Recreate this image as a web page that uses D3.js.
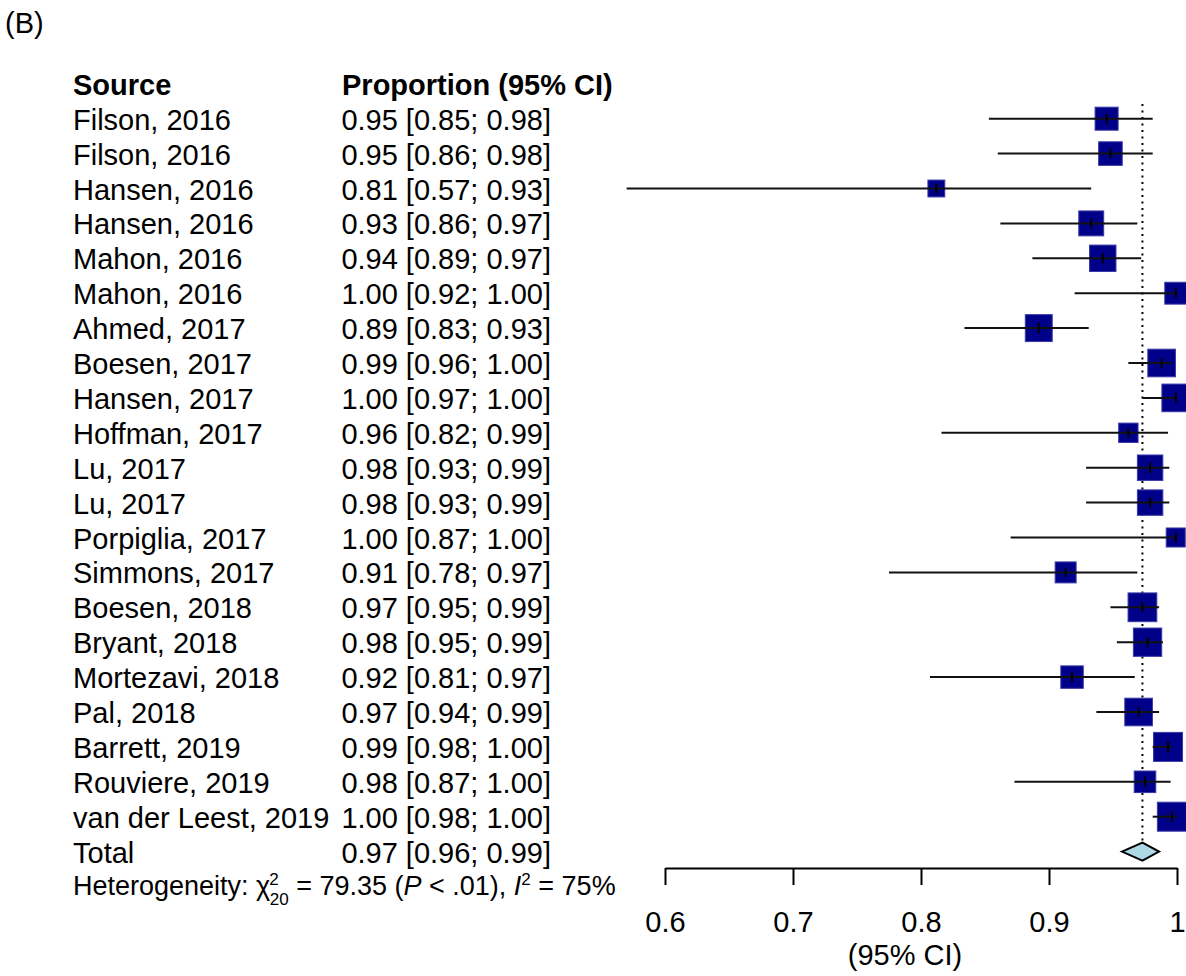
<!DOCTYPE html>
<html>
<head>
<meta charset="utf-8">
<script src="https://cdn.jsdelivr.net/npm/d3@7"></script>
<style>
  body { margin: 0; background: #fff; }
  svg { font-family: "Liberation Sans", Arial, Helvetica, sans-serif; }
</style>
</head>
<body>
<script>
var w = 1186;
var h = 976;

// study data
var studies = ["Filson, 2016", "Filson, 2016", "Hansen, 2016", "Hansen, 2016", "Mahon, 2016",
  "Mahon, 2016", "Ahmed, 2017", "Boesen, 2017", "Hansen, 2017", "Hoffman, 2017", "Lu, 2017",
  "Lu, 2017", "Porpiglia, 2017", "Simmons, 2017", "Boesen, 2018", "Bryant, 2018",
  "Mortezavi, 2018", "Pal, 2018", "Barrett, 2019", "Rouviere, 2019", "van der Leest, 2019"];
var est = [0.945, 0.948, 0.812, 0.933, 0.942, 0.999, 0.892, 0.988, 0.999, 0.962, 0.979,
  0.979, 0.999, 0.913, 0.973, 0.977, 0.918, 0.970, 0.993, 0.975, 0.996];
var lower = [0.853, 0.860, 0.570, 0.862, 0.887, 0.920, 0.834, 0.962, 0.973, 0.816, 0.929,
  0.929, 0.870, 0.775, 0.948, 0.953, 0.807, 0.937, 0.981, 0.873, 0.981];
var upper = [0.981, 0.981, 0.933, 0.969, 0.972, 1.000, 0.931, 0.996, 1.000, 0.993, 0.994,
  0.994, 1.000, 0.969, 0.986, 0.989, 0.967, 0.986, 0.996, 0.995, 1.000];
var weights = [4.1, 4.3, 2.2, 4.8, 5.4, 3.7, 5.6, 5.9, 5.9, 2.9, 5.0, 5.0, 2.8, 3.4, 6.4,
  6.2, 3.9, 5.9, 6.5, 3.6, 6.5];
var ciText = ["0.95 [0.85; 0.98]", "0.95 [0.86; 0.98]", "0.81 [0.57; 0.93]", "0.93 [0.86; 0.97]",
  "0.94 [0.89; 0.97]", "1.00 [0.92; 1.00]", "0.89 [0.83; 0.93]", "0.99 [0.96; 1.00]",
  "1.00 [0.97; 1.00]", "0.96 [0.82; 0.99]", "0.98 [0.93; 0.99]", "0.98 [0.93; 0.99]",
  "1.00 [0.87; 1.00]", "0.91 [0.78; 0.97]", "0.97 [0.95; 0.99]", "0.98 [0.95; 0.99]",
  "0.92 [0.81; 0.97]", "0.97 [0.94; 0.99]", "0.99 [0.98; 1.00]", "0.98 [0.87; 1.00]",
  "1.00 [0.98; 1.00]"];

var total = { est: 0.973, lower: 0.957, upper: 0.986, text: "0.97 [0.96; 0.99]" };
var xTicks = [0.6, 0.7, 0.8, 0.9, 1];

var svg = d3.select("body").append("svg").attr("width", w).attr("height", h);

var x = d3.scaleLinear().domain([0.6, 1]).range([665, 1177]);
var y = d3.scaleLinear().domain([0, 21]).range([118.7, 118.7 + 21 * 34.9]);
var size = d3.scaleSqrt().domain([0, 6.5]).range([0, 29]);
var base = 11; // text baseline below row centre
var fs = 29;

var rows = studies.map(function (s, i) {
  return { name: s, est: est[i], lo: lower[i], hi: upper[i], wt: weights[i], txt: ciText[i], i: i };
});

svg.append("text").attr("x", 5).attr("y", 33).attr("font-size", fs).text("(B)");

// headers
svg.append("text").attr("x", 73).attr("y", y(-1) + base)
  .attr("font-size", fs).attr("font-weight", "bold").text("Source");
svg.append("text").attr("x", 342).attr("y", y(-1) + base)
  .attr("font-size", fs).attr("font-weight", "bold").text("Proportion (95% CI)");

// left columns
svg.selectAll(".src").data(rows).enter().append("text")
  .attr("class", "src")
  .attr("x", 73).attr("y", function (d) { return y(d.i) + base; })
  .attr("font-size", fs).text(function (d) { return d.name; });

svg.selectAll(".ci").data(rows).enter().append("text")
  .attr("class", "ci")
  .attr("x", 551).attr("y", function (d) { return y(d.i) + base; })
  .attr("text-anchor", "end")
  .attr("font-size", fs).text(function (d) { return d.txt; });

svg.append("text").attr("x", 73).attr("y", y(21) + base).attr("font-size", fs).text("Total");
svg.append("text").attr("x", 551).attr("y", y(21) + base).attr("text-anchor", "end")
  .attr("font-size", fs).text(total.text);

// heterogeneity line
var het = svg.append("text").attr("x", 73).attr("y", 895).attr("font-size", 27);
het.append("tspan").text("Heterogeneity: \u03c7");
het.append("tspan").attr("font-size", 17).attr("dy", -10).attr("dx", -1).text("2");
het.append("tspan").attr("font-size", 17).attr("dy", 20).attr("dx", -9).text("20");
het.append("tspan").attr("dy", -10).text(" = 79.35 (");
het.append("tspan").attr("font-style", "italic").text("P");
het.append("tspan").text(" < .01), ");
het.append("tspan").attr("font-style", "italic").text("I");
het.append("tspan").attr("font-size", 17).attr("dy", -10).text("2");
het.append("tspan").attr("dy", 10).text(" = 75%");

// reference line at pooled estimate
svg.append("line")
  .attr("x1", x(total.est)).attr("x2", x(total.est))
  .attr("y1", 104).attr("y2", y(21) - 9)
  .attr("stroke", "#000").attr("stroke-width", 2)
  .attr("stroke-dasharray", "2,4.5");

var g = svg.selectAll(".study").data(rows).enter().append("g").attr("class", "study");

g.append("rect")
  .attr("x", function (d) { return x(d.est) - size(d.wt) / 2; })
  .attr("y", function (d) { return y(d.i) - size(d.wt) / 2; })
  .attr("width", function (d) { return size(d.wt); })
  .attr("height", function (d) { return size(d.wt); })
  .attr("fill", "#000088").attr("stroke", "#3a3aa8").attr("stroke-width", 1);

g.append("line")
  .attr("x1", function (d) { return x(d.lo); })
  .attr("x2", function (d) { return x(d.hi); })
  .attr("y1", function (d) { return y(d.i); })
  .attr("y2", function (d) { return y(d.i); })
  .attr("stroke", "#111").attr("stroke-width", 2);

g.append("line")
  .attr("x1", function (d) { return x(d.est); })
  .attr("x2", function (d) { return x(d.est); })
  .attr("y1", function (d) { return y(d.i) - 5; })
  .attr("y2", function (d) { return y(d.i) + 5; })
  .attr("stroke", "#000").attr("stroke-width", 2);

// pooled diamond
var ty = y(21);
svg.append("path")
  .attr("d", "M" + x(total.lower) + "," + ty + "L" + x(total.est) + "," + (ty - 9) +
    "L" + x(total.upper) + "," + ty + "L" + x(total.est) + "," + (ty + 9) + "Z")
  .attr("fill", "#add8e6").attr("stroke", "#000").attr("stroke-width", 2);

// axis
var axis = svg.append("g").attr("transform", "translate(0,868)")
  .call(d3.axisBottom(x).tickValues(xTicks).tickSize(17).tickSizeOuter(0).tickPadding(26)
    .tickFormat(function (d) { return d === 1 ? "1" : d3.format(".1f")(d); }));
axis.attr("font-family", null);
axis.select(".domain").attr("stroke-width", 2);
axis.selectAll(".tick line").attr("stroke-width", 2);
axis.selectAll(".tick text").attr("font-size", fs).attr("fill", "#000");

svg.append("text").attr("x", 905).attr("y", 965).attr("text-anchor", "middle")
  .attr("font-size", fs).text("(95% CI)");
</script>
</body>
</html>
